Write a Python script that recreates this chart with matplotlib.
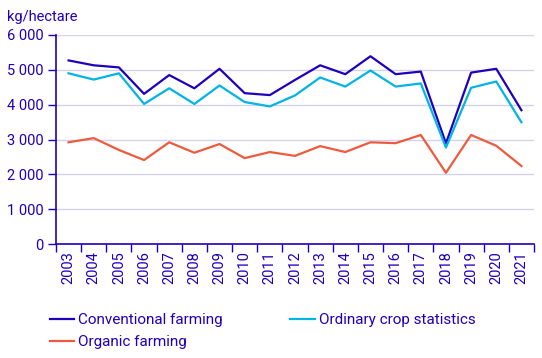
import matplotlib.pyplot as plt
from matplotlib.ticker import FuncFormatter, FixedLocator

years = [str(y) for y in range(2003, 2022)]
conventional = [5270, 5130, 5070, 4310, 4850, 4470, 5030, 4330, 4275, 4710,
                5130, 4875, 5390, 4875, 4950, 2890, 4920, 5030, 3840]
ordinary = [4900, 4720, 4900, 4020, 4470, 4020, 4550, 4075, 3950, 4265,
            4780, 4520, 4980, 4520, 4610, 2770, 4485, 4665, 3495]
organic = [2920, 3040, 2700, 2410, 2920, 2620, 2870, 2465, 2640, 2530,
           2810, 2640, 2920, 2895, 3130, 2045, 3130, 2820, 2240]

text_col = "#1e00be"
plt.rcParams["font.family"] = ["Roboto", "DejaVu Sans"]

fig = plt.figure(figsize=(5.42, 3.58), dpi=100)
ax = fig.add_axes([56 / 542, 1 - 244 / 358, 478 / 542, 209 / 358])

x = list(range(len(years)))
l1, = ax.plot(x, conventional, color="#1e00be", lw=1.6, label="Conventional farming")
l2, = ax.plot(x, ordinary, color="#00b4e6", lw=1.6, label="Ordinary crop statistics")
l3, = ax.plot(x, organic, color="#f05a3c", lw=1.6, label="Organic farming")

ax.set_xlim(-0.5, len(years) - 0.5)
ax.set_ylim(0, 6000)
ax.set_yticks(range(0, 6001, 1000))
ax.yaxis.set_major_formatter(FuncFormatter(lambda v, p: f"{int(v):,}".replace(",", " ")))
ax.grid(axis="y", color="#d2d2ee", lw=1)
ax.set_axisbelow(True)

# ticks between categories, labels centred
ax.xaxis.set_major_locator(FixedLocator([i - 0.5 for i in range(len(years) + 1)]))
ax.xaxis.set_minor_locator(FixedLocator(x))
ax.set_xticklabels([])
ax.set_xticklabels(years, minor=True, rotation=90)
ax.tick_params(axis="x", which="major", length=6, color=text_col, width=1)
ax.tick_params(axis="x", which="minor", length=0, pad=5, labelsize=10.5, labelcolor=text_col)
ax.tick_params(axis="y", length=6, color=text_col, width=1, labelsize=10.5, labelcolor=text_col, pad=3)

for s in ["top", "right"]:
    ax.spines[s].set_visible(False)
for s in ["left", "bottom"]:
    ax.spines[s].set_color(text_col)
    ax.spines[s].set_linewidth(1.2)

fig.text(7 / 542, 1 - 17 / 358, "kg/hectare", color=text_col, fontsize=10.5, va="center")

# row-major order: conventional, ordinary / organic
fig.legend([l1, l3, l2], [l1.get_label(), l3.get_label(), l2.get_label()],
           loc="upper left", bbox_to_anchor=(50 / 542, 1 - 313 / 358), ncol=2,
           frameon=False, fontsize=11, labelcolor=text_col, handlelength=1.6,
           handletextpad=0.26, columnspacing=4.4, labelspacing=0.55, borderaxespad=0,
           borderpad=0)

fig.savefig("out.png", dpi=100)
